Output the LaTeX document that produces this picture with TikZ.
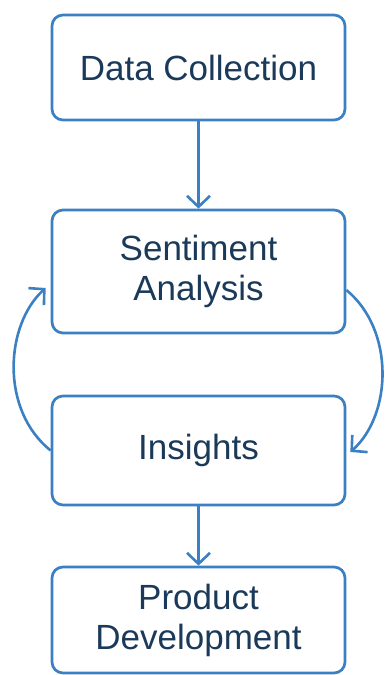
\documentclass[tikz,border=0pt]{standalone}
\usepackage{fontspec}
\setmainfont{Liberation Sans}
\usetikzlibrary{arrows.meta}
\definecolor{stroke}{HTML}{3A80C2}
\definecolor{ink}{HTML}{1B3A5A}
\begin{document}
\begin{tikzpicture}[x=1pt,y=1pt,
  box/.style={draw=stroke, line width=2.7pt, rounded corners=11pt, minimum width=293pt, align=center, text=ink, font=\fontsize{35}{40}\selectfont, inner sep=0pt},
  conn/.style={draw=stroke, line width=2.6pt, -{Straight Barb[length=11pt,width=23pt,line width=2.6pt]}}
]
\useasboundingbox (0,0) rectangle (384,675);
\node[box, minimum height=105pt] (dc) at (198.5,607.5) {Data Collection};
\node[box, minimum height=123pt] (sa) at (198.5,403.5) {Sentiment\\Analysis};
\node[box, minimum height=109pt] (ins) at (198.5,224.5) {Insights};
\node[box, minimum height=106pt] (pd) at (198.5,55) {Product\\Development};
\draw[conn] (dc) -- (sa);
\draw[conn] (ins) -- (pd);
\coordinate (le) at ([xshift=-5pt,yshift=-16.5pt]sa.west);
\coordinate (rs) at ([yshift=-18.5pt]sa.east);
\coordinate (re) at ([xshift=4pt,yshift=-1.5pt]ins.east);
\draw[conn] (ins.west) .. controls (0,265) and (5,350) .. (le);
\draw[conn] (rs) .. controls (395,345) and (392,260) .. (re);
\end{tikzpicture}
\end{document}
